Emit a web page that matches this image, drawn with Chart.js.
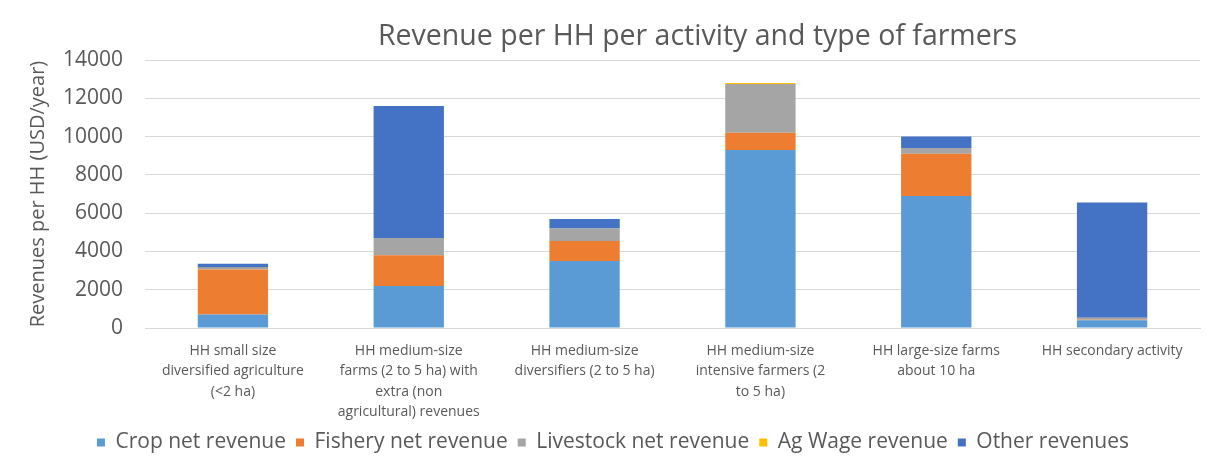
<!DOCTYPE html>
<html>
<head>
<meta charset="utf-8">
<title>Revenue per HH per activity and type of farmers</title>
<script src="https://cdn.jsdelivr.net/npm/chart.js@4.4.1/dist/chart.umd.min.js"></script>
<style>
  html, body { margin: 0; padding: 0; background: #ffffff; }
  #wrap { position: relative; width: 1212px; height: 459px; }
</style>
</head>
<body>
<div id="wrap"><canvas id="chart"></canvas></div>
<script>
// Farmer types (wrapped as they appear under each bar)
const categories = [
  ["HH small size", "diversified agriculture", "(<2 ha)"],
  ["HH medium-size", "farms (2 to 5 ha) with", "extra (non", "agricultural) revenues"],
  ["HH medium-size", "diversifiers (2 to 5 ha)"],
  ["HH medium-size", "intensive farmers (2", "to 5 ha)"],
  ["HH large-size farms", "about 10 ha"],
  ["HH secondary activity"]
];

// Revenue per household, USD/year
const cropNet      = [700, 2200, 3500, 9300, 6900, 400];
const fisheryNet   = [2350, 1600, 1050, 900, 2200, 30];
const livestockNet = [80, 900, 650, 2550, 300, 100];
const agWage       = [20, 0, 0, 50, 0, 0];
const otherRev     = [200, 6900, 500, 0, 600, 6020];

const yTicks = [0, 2000, 4000, 6000, 8000, 10000, 12000, 14000];

const chartTitle = "Revenue per HH per activity and type of farmers";
const yTitle = "Revenues per HH (USD/year)";

const textGrey = "#595959";
const fontFamily = "'Open Sans'";

const whiteBg = {
  id: "whiteBg",
  beforeDraw(chart) {
    const c = chart.ctx;
    c.save();
    c.fillStyle = "#ffffff";
    c.fillRect(0, 0, chart.width, chart.height);
    c.restore();
  }
};

// Title drawn centred over the plot area
const plotTitle = {
  id: "plotTitle",
  afterDraw(chart) {
    const c = chart.ctx;
    const a = chart.chartArea;
    c.save();
    c.fillStyle = textGrey;
    c.font = "28.5px " + fontFamily;
    c.textAlign = "center";
    c.textBaseline = "middle";
    c.fillText(chartTitle, (a.left + a.right) / 2 + 25, 37);
    c.restore();
  }
};

const ds = (label, data, color) => ({
  label, data,
  backgroundColor: color,
  borderWidth: 0,
  barPercentage: 0.4,
  categoryPercentage: 1.0
});

Chart.defaults.font.family = fontFamily;
Chart.defaults.color = textGrey;

new Chart(document.getElementById("chart"), {
  type: "bar",
  data: {
    labels: categories,
    datasets: [
      ds("Crop net revenue", cropNet, "#5B9BD5"),
      ds("Fishery net revenue", fisheryNet, "#ED7D31"),
      ds("Livestock net revenue", livestockNet, "#A5A5A5"),
      ds("Ag Wage revenue", agWage, "#FFC000"),
      ds("Other revenues", otherRev, "#4472C4")
    ]
  },
  options: {
    responsive: true,
    maintainAspectRatio: false,
    animation: false,
    layout: { padding: { top: 60, right: 12, left: 26, bottom: -4 } },
    plugins: {
      title: { display: false },
      tooltip: { enabled: false },
      legend: {
        position: "bottom",
        labels: {
          boxWidth: 8,
          boxHeight: 8,
          padding: 10,
          color: textGrey,
          font: { size: 21 }
        }
      }
    },
    scales: {
      x: {
        stacked: true,
        grid: { display: false },
        border: { display: true, color: "#d9d9d9" },
        ticks: {
          color: textGrey,
          font: { size: 14, lineHeight: 1.45 },
          maxRotation: 0,
          autoSkip: false,
          padding: 5
        },
        afterFit(scale) { scale.height = 94; }
      },
      y: {
        stacked: true,
        min: 0,
        max: 14000,
        afterBuildTicks(scale) { scale.ticks = yTicks.map(v => ({ value: v })); },
        grid: { color: "#d9d9d9", drawTicks: false },
        border: { display: false },
        ticks: {
          color: textGrey,
          font: { size: 21 },
          padding: 22,
          callback: (v) => String(v)
        },
        title: {
          display: true,
          text: yTitle,
          color: textGrey,
          font: { size: 20 },
          padding: { top: 0, bottom: 0 }
        },
        afterFit(scale) { scale.width = 119; }
      }
    }
  },
  plugins: [whiteBg, plotTitle]
});
</script>
</body>
</html>
